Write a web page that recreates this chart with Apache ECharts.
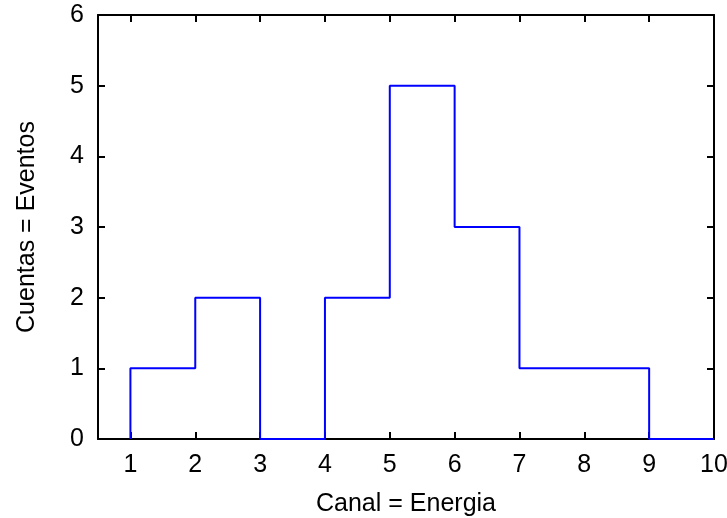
<!DOCTYPE html>
<html>
<head>
<meta charset="utf-8">
<script src="https://cdn.jsdelivr.net/npm/echarts@6/dist/echarts.min.js"></script>
<style>
  html, body { margin: 0; padding: 0; background: #fff; }
  #chart { width: 727px; height: 518px; }
</style>
</head>
<body>
<div id="chart"></div>
<script>
// Histogram bins: lower edges of each channel and the counts per channel
const binEdges = [1, 2, 3, 4, 5, 6, 7, 8, 9, 10];
const counts = [1, 2, 0, 2, 5, 3, 1, 1, 0];
const xTicks = [1, 2, 3, 4, 5, 6, 7, 8, 9, 10];
const yTicks = [0, 1, 2, 3, 4, 5, 6];

// Build the outline of the step histogram from the bins
const outline = [[binEdges[0], 0]];
for (let i = 0; i < counts.length; i++) {
  outline.push([binEdges[i], counts[i]]);
  outline.push([binEdges[i + 1], counts[i]]);
}

const font = 'Liberation Sans, Arial, Helvetica, sans-serif';
const axisLine = { show: true, onZero: false, lineStyle: { color: '#000', width: 2 } };
const tickIn = (vals) => ({ show: true, inside: true, length: 7, customValues: vals, lineStyle: { color: '#000', width: 2 } });

const chart = echarts.init(document.getElementById('chart'), null, { renderer: 'canvas' });
chart.setOption({
  animation: false,
  backgroundColor: '#fff',
  grid: { left: 98, top: 15, right: 13, bottom: 79, containLabel: false, outerBoundsMode: 'none' },
  xAxis: [
    {
      type: 'value', position: 'bottom', min: 0.5, max: 10,
      name: 'Canal = Energia', nameLocation: 'middle', nameGap: 53,
      nameTextStyle: { color: '#000', fontSize: 25, fontFamily: font },
      axisLine: axisLine,
      axisTick: tickIn(xTicks),
      axisLabel: { customValues: xTicks, color: '#000', fontSize: 25, fontFamily: font, margin: 14 },
      splitLine: { show: false }
    },
    {
      type: 'value', position: 'top', min: 0.5, max: 10,
      axisLine: axisLine,
      axisTick: tickIn(xTicks),
      axisLabel: { show: false, customValues: xTicks },
      splitLine: { show: false }
    }
  ],
  yAxis: [
    {
      type: 'value', position: 'left', min: 0, max: 6, interval: 1,
      name: 'Cuentas = Eventos', nameLocation: 'middle', nameGap: 58,
      nameTextStyle: { color: '#000', fontSize: 25, fontFamily: font },
      axisLine: axisLine,
      axisTick: { show: true, inside: true, length: 7, lineStyle: { color: '#000', width: 2 } },
      axisLabel: { color: '#000', fontSize: 25, fontFamily: font, margin: 14 },
      splitLine: { show: false }
    },
    {
      type: 'value', position: 'right', min: 0, max: 6, interval: 1,
      axisLine: axisLine,
      axisTick: { show: true, inside: true, length: 7, lineStyle: { color: '#000', width: 2 } },
      axisLabel: { show: false },
      splitLine: { show: false }
    }
  ],
  series: [
    {
      type: 'line',
      xAxisIndex: 0, yAxisIndex: 0,
      data: outline,
      showSymbol: false,
      symbol: 'none',
      lineStyle: { color: '#0000ff', width: 2 },
      z: 1
    }
  ]
});
</script>
</body>
</html>
